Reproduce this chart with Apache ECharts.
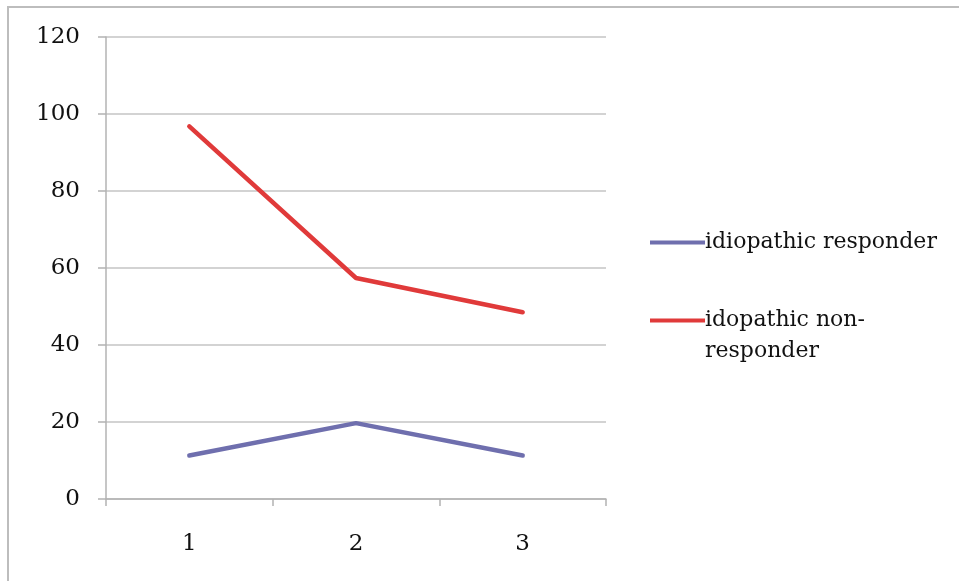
<!DOCTYPE html>
<html>
<head>
<meta charset="utf-8">
<script src="https://cdn.jsdelivr.net/npm/echarts@6/dist/echarts.min.js"></script>
<style>
  html, body { margin: 0; padding: 0; background: #ffffff; }
  #chart { width: 959px; height: 581px; }
</style>
</head>
<body>
<div id="chart"></div>
<script>
// Categories along the x axis
const categories = ['1', '2', '3'];

// Series names and values
const seriesNames = ['idiopathic responder', 'idopathic non-responder'];
const responder = [11.3, 19.7, 11.3];
const nonResponder = [96.8, 57.4, 48.5];

// Y axis range
const yMin = 0;
const yMax = 120;
const yStep = 20;

const FONT = 'DejaVu Serif';
const chart = echarts.init(document.getElementById('chart'), null, { renderer: 'canvas' });

chart.setOption({
  backgroundColor: '#ffffff',
  animation: false,
  graphic: [{
    type: 'rect',
    shape: { x: 8, y: 7, width: 1000, height: 700 },
    style: { fill: 'none', stroke: '#bdbdbd', lineWidth: 2 },
    silent: true
  }],
  grid: { left: 106, top: 37, width: 500, height: 462 },
  legend: {
    orient: 'vertical',
    left: 645,
    top: 222,
    itemWidth: 55,
    itemHeight: 4,
    itemGap: 16,
    icon: 'rect',
    textStyle: { fontFamily: FONT, fontSize: 22, color: '#111', lineHeight: 31, padding: [0, 0, 0, -5] },
    formatter: function (name) {
      return name === seriesNames[1] ? ' \nidopathic non-\nresponder' : name;
    },
    data: seriesNames
  },
  xAxis: {
    type: 'category',
    data: categories,
    boundaryGap: true,
    axisLine: { lineStyle: { color: '#b3b3b3', width: 1.5 } },
    axisTick: { show: true, length: 7, lineStyle: { color: '#b3b3b3', width: 1.5 } },
    axisLabel: { fontFamily: FONT, fontSize: 23, color: '#111', margin: 34 },
    splitLine: { show: false }
  },
  yAxis: {
    type: 'value',
    min: yMin,
    max: yMax,
    interval: yStep,
    axisLine: { show: true, lineStyle: { color: '#b3b3b3', width: 1.5 } },
    axisTick: { show: true, length: 8, lineStyle: { color: '#b3b3b3', width: 1.5 } },
    axisLabel: { fontFamily: FONT, fontSize: 23, color: '#111', margin: 26 },
    splitLine: { show: true, lineStyle: { color: '#c4c4c4', width: 1.5 } }
  },
  series: [
    {
      name: seriesNames[0],
      type: 'line',
      data: responder,
      symbol: 'none',
      color: '#6f6fae',
      lineStyle: { width: 4.5, color: '#6f6fae', cap: 'round' }
    },
    {
      name: seriesNames[1],
      type: 'line',
      data: nonResponder,
      symbol: 'none',
      color: '#e03a3a',
      lineStyle: { width: 4.5, color: '#e03a3a', cap: 'round' }
    }
  ]
});
</script>
</body>
</html>
